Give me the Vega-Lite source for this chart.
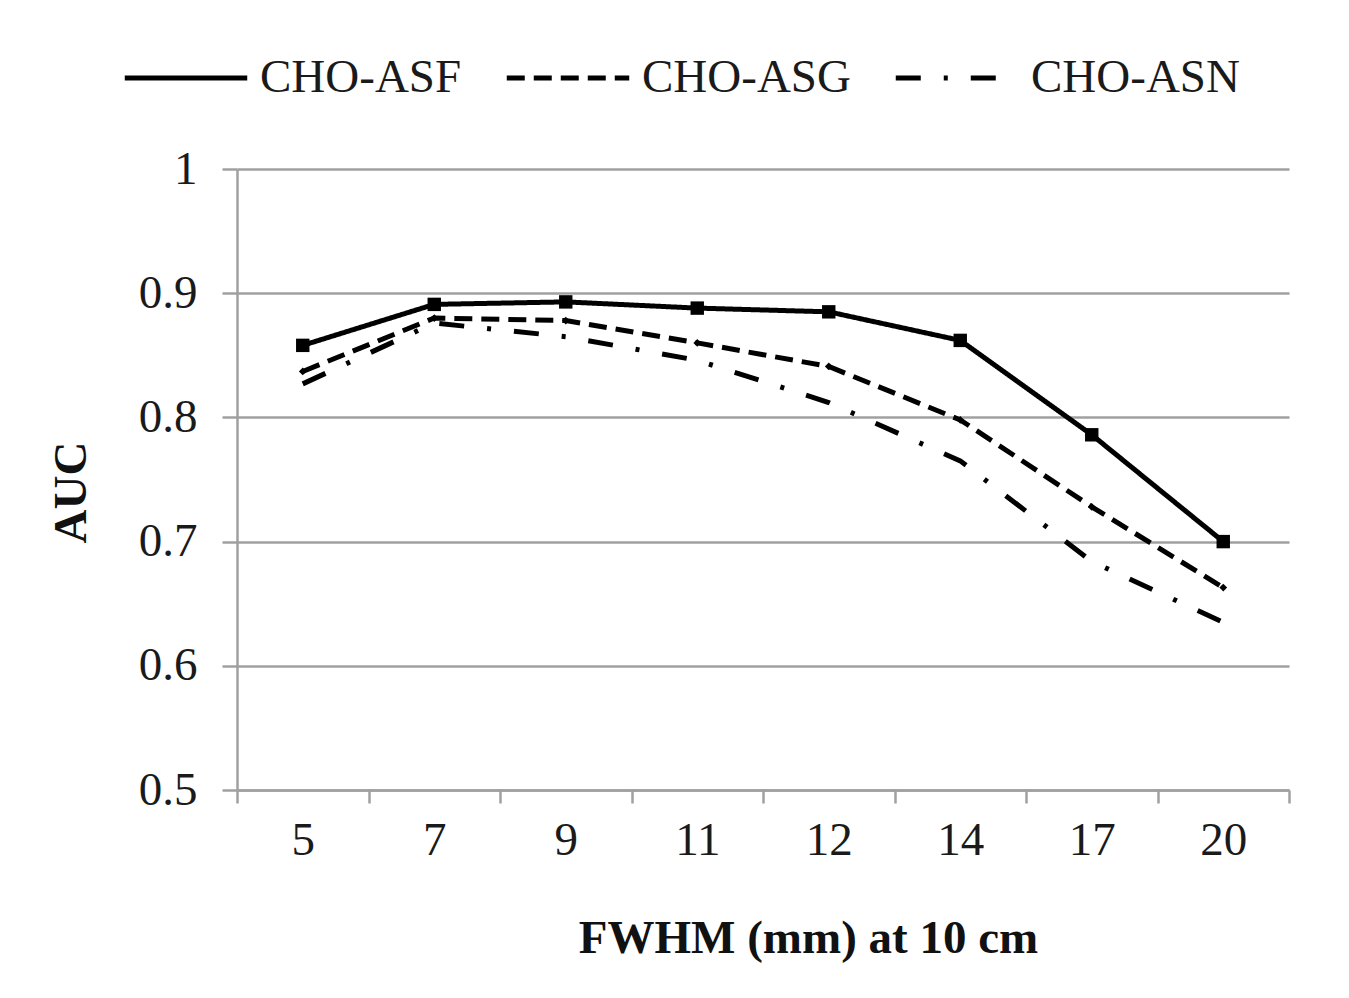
{
  "$schema": "https://vega.github.io/schema/vega-lite/v6.json",
  "autosize": {"type": "none"},
  "width": 1052,
  "height": 621,
  "padding": {"left": 237, "top": 169, "right": 60, "bottom": 208},
  "background": "white",
  "data": {
    "values": [
      {"fwhm": "5", "series": "CHO-ASF", "auc": 0.858},
      {"fwhm": "7", "series": "CHO-ASF", "auc": 0.891},
      {"fwhm": "9", "series": "CHO-ASF", "auc": 0.893},
      {"fwhm": "11", "series": "CHO-ASF", "auc": 0.888},
      {"fwhm": "12", "series": "CHO-ASF", "auc": 0.885},
      {"fwhm": "14", "series": "CHO-ASF", "auc": 0.862},
      {"fwhm": "17", "series": "CHO-ASF", "auc": 0.786},
      {"fwhm": "20", "series": "CHO-ASF", "auc": 0.700},
      {"fwhm": "5", "series": "CHO-ASG", "auc": 0.837},
      {"fwhm": "7", "series": "CHO-ASG", "auc": 0.880},
      {"fwhm": "9", "series": "CHO-ASG", "auc": 0.878},
      {"fwhm": "11", "series": "CHO-ASG", "auc": 0.860},
      {"fwhm": "12", "series": "CHO-ASG", "auc": 0.841},
      {"fwhm": "14", "series": "CHO-ASG", "auc": 0.798},
      {"fwhm": "17", "series": "CHO-ASG", "auc": 0.728},
      {"fwhm": "20", "series": "CHO-ASG", "auc": 0.663},
      {"fwhm": "5", "series": "CHO-ASN", "auc": 0.827},
      {"fwhm": "7", "series": "CHO-ASN", "auc": 0.876},
      {"fwhm": "9", "series": "CHO-ASN", "auc": 0.865},
      {"fwhm": "11", "series": "CHO-ASN", "auc": 0.846},
      {"fwhm": "12", "series": "CHO-ASN", "auc": 0.812},
      {"fwhm": "14", "series": "CHO-ASN", "auc": 0.765},
      {"fwhm": "17", "series": "CHO-ASN", "auc": 0.684},
      {"fwhm": "20", "series": "CHO-ASN", "auc": 0.635}
    ]
  },
  "encoding": {
    "x": {
      "field": "fwhm",
      "type": "ordinal",
      "sort": ["5", "7", "9", "11", "12", "14", "17", "20"],
      "scale": {"paddingInner": 0, "paddingOuter": 0},
      "axis": {
        "title": "FWHM (mm) at 10 cm",
        "labelAngle": 0,
        "tickBand": "extent",
        "grid": false,
        "domainColor": "#a0a0a0",
        "domainWidth": 2.5,
        "tickColor": "#a0a0a0",
        "tickWidth": 2.5,
        "tickSize": 13,
        "labelPadding": 14,
        "labelFont": "Liberation Serif",
        "labelFontSize": 47,
        "labelColor": "#1a1a1a",
        "titleFont": "Liberation Serif",
        "titleFontSize": 47,
        "titleFontWeight": "bold",
        "titleColor": "#111111",
        "titleAlign": "center",
        "titleBaseline": "alphabetic",
        "titleX": 571,
        "titleY": 162
      }
    },
    "y": {
      "field": "auc",
      "type": "quantitative",
      "scale": {"domain": [0.5, 1], "nice": false, "zero": false},
      "axis": {
        "title": "AUC",
        "values": [0.5, 0.6, 0.7, 0.8, 0.9, 1],
        "format": "~g",
        "grid": true,
        "gridColor": "#a0a0a0",
        "gridWidth": 2.5,
        "domainColor": "#a0a0a0",
        "domainWidth": 2.5,
        "tickColor": "#a0a0a0",
        "tickWidth": 2.5,
        "tickSize": 15,
        "labelPadding": 25,
        "labelFont": "Liberation Serif",
        "labelFontSize": 47,
        "labelColor": "#1a1a1a",
        "titleFont": "Liberation Serif",
        "titleFontSize": 47,
        "titleFontWeight": "bold",
        "titleColor": "#111111",
        "titleAngle": 270,
        "titleAlign": "center",
        "titleBaseline": "alphabetic",
        "titleX": -152,
        "titleY": 323
      }
    }
  },
  "layer": [
    {
      "mark": {"type": "line", "color": "black", "strokeWidth": 5},
      "encoding": {
        "strokeDash": {
          "field": "series",
          "type": "nominal",
          "scale": {
            "domain": ["CHO-ASF", "CHO-ASG", "CHO-ASN"],
            "range": [[1, 0], [18, 9], [25, 23, 4, 23]]
          },
          "legend": {
            "title": null,
            "orient": "none",
            "direction": "horizontal",
            "legendX": -115,
            "legendY": -155,
            "padding": 0,
            "columnPadding": 34,
            "labelOffset": 10,
            "symbolType": "stroke",
            "symbolSize": 15000,
            "symbolStrokeWidth": 5,
            "symbolStrokeColor": "black",
            "labelFont": "Liberation Serif",
            "labelFontSize": 47,
            "labelColor": "#1a1a1a",
            "labelLimit": 400
          }
        }
      }
    },
    {
      "transform": [{"filter": "datum.series !== 'CHO-ASN'"}],
      "mark": {"type": "point", "filled": true, "color": "black", "opacity": 1},
      "encoding": {
        "shape": {
          "field": "series",
          "type": "nominal",
          "scale": {"domain": ["CHO-ASF", "CHO-ASG"], "range": ["square", "diamond"]},
          "legend": null
        },
        "size": {
          "field": "series",
          "type": "nominal",
          "scale": {"domain": ["CHO-ASF", "CHO-ASG"], "range": [180, 60]},
          "legend": null
        }
      }
    }
  ],
  "config": {
    "view": {"stroke": null}
  }
}
